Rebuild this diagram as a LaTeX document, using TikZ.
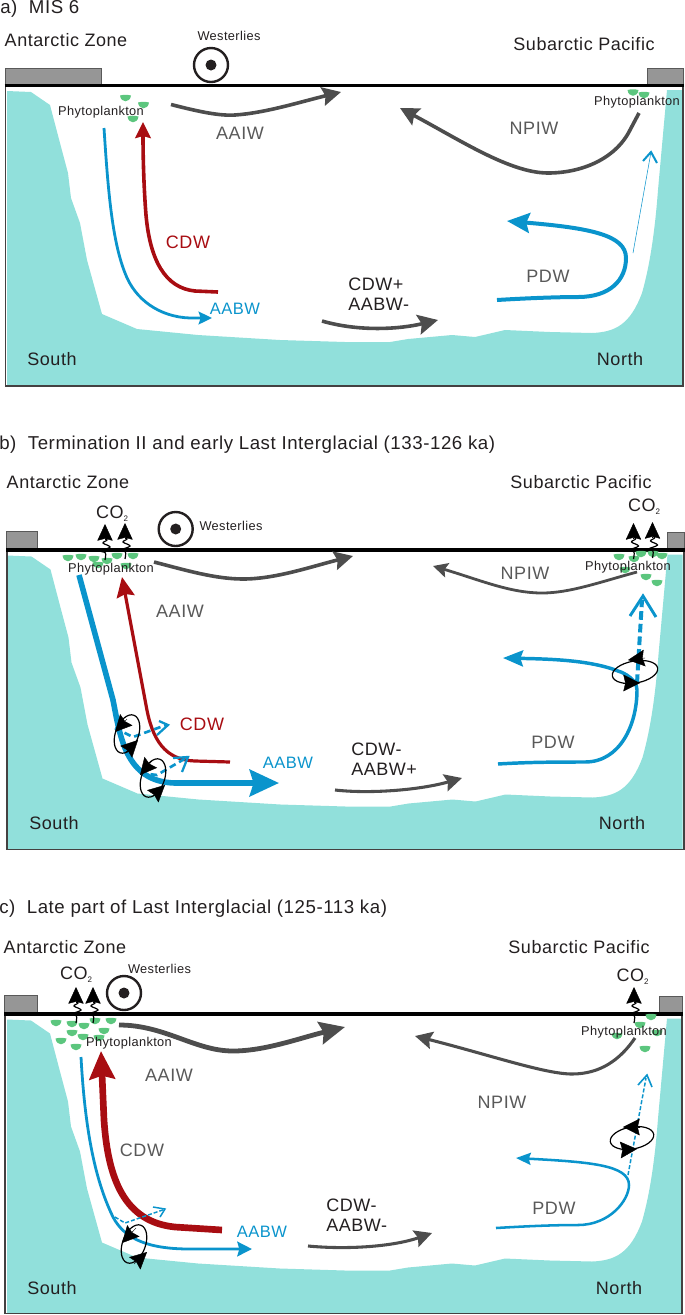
\documentclass[tikz,border=0pt]{standalone}
\usepackage{fontspec}
\setmainfont{Liberation Sans}[LetterSpace=3]
\usetikzlibrary{arrows.meta}
\definecolor{seac}{HTML}{91E0DB}
\definecolor{flowg}{HTML}{4D4D4D}
\definecolor{textg}{HTML}{595959}
\definecolor{flowr}{HTML}{A80D12}
\definecolor{flowb}{HTML}{0A94CC}
\definecolor{phyc}{HTML}{5CC67E}
\definecolor{landc}{HTML}{969696}
\definecolor{inkc}{HTML}{231F20}
\newcommand{\myco}{CO\raisebox{-2pt}{\fontsize{6}{6}\selectfont 2}}
% half-ellipse plankton blob
\newcommand{\blob}[2]{\fill[phyc] (#1-5.5,#2-2.5) .. controls (#1-4.5,#2+5.2) and (#1+4.5,#2+5.2) .. (#1+5.5,#2-2.5) .. controls (#1+2,#2-3.4) and (#1-2,#2-3.4) .. cycle;}
% CO2 arrow: tip at (x,y), squiggle down to y+36
\newcommand{\coarrow}[2]{%
  \draw[squig] plot[smooth,tension=.6] coordinates {(#1,#2+36) (#1+.5,#2+29) (#1-4,#2+27) (#1+5,#2+23) (#1-2,#2+19) (#1+2,#2+16) (#1,#2+13)};
  \draw[cohead] (#1,#2+16) -- (#1,#2);}
% wind symbol
\newcommand{\wind}[3]{%
  \node[windring] (#3) at (#1,#2) {};
  \fill[inkc] (#1,#2) circle[radius=5.5];}
\tikzset{
  lab/.style={font=\fontsize{13.5}{16}\selectfont,text=inkc,inner sep=0pt},
  ttl/.style={lab,font=\fontsize{14}{16}\selectfont,anchor=west},
  glab/.style={lab,text=textg},
  rlab/.style={lab,text=flowr},
  blab/.style={lab,font=\fontsize{12.4}{15}\selectfont,text=flowb},
  small/.style={font=\fontsize{9.6}{11}\selectfont,text=inkc,inner sep=0pt},
  stack/.style={lab,anchor=west},
  windring/.style={circle,draw=inkc,line width=1.8pt,minimum size=34*.75pt,inner sep=0pt},
  land/.style={fill=landc,draw=textg,line width=.6pt},
  side/.style={draw=inkc!85,line width=1.1pt},
  surface/.style={draw=black,line width=2.3pt},
  head/.style n args={3}{-{Stealth[length=#1pt,width=#2pt,inset=#3pt]}},
  gflow/.style={draw=flowg,line width=2.7pt},
  rflow/.style={draw=flowr,line width=2.7pt},
  bflow/.style={draw=flowb,line width=2.1pt},
  squig/.style={draw=black,line width=.9pt},
  cohead/.style={draw=black,line width=.3pt,head={12.5}{11.5}{1.5},fill=black},
  eddy/.style={draw=black,line width=.9pt},
  eddyhead/.style={draw=black,line width=.3pt,head={12.5}{12.5}{1.5}},
  oarrow/.style={draw=flowb,line cap=butt,line join=miter},
}
\begin{document}
\begin{tikzpicture}[x=.75pt,y=-.75pt]
\useasboundingbox (0,0) rectangle (685,1315);
\def\seapath{(7,91) -- (31,92) -- (50,105) -- (60,143) -- (68,173) -- (71,198) -- (80,223) -- (87,260) -- (102,314) -- (137,329) -- (198,335) -- (280,340) -- (345,342) -- (390,342) -- (408,339) -- (452,335) -- (475,337) -- (505,330) -- (550,332) -- (592,333) .. controls (615,332) and (630,325) .. (642,293) .. controls (650,265) and (655,230) .. (658,190) -- (667,90) -- (682,90) -- (682,385) -- (7,385) -- cycle}
% ---------- panel a
\fill[seac] \seapath;
\draw[land] (5,68) rectangle (101,84);
\draw[land] (647,68) rectangle (683,84);
\draw[side] (5.5,86) -- (5.5,386) -- (683,386) -- (683,86);
\draw[surface] (4.5,85.5) -- (684,85.5);
\wind{211}{65}{windA}
\blob{125.5}{98}\blob{143.5}{105}\blob{133}{119}\blob{633}{92.5}\blob{644}{95}
\draw[gflow,head={14}{14}{2}] (171,104.5) .. controls (200,112) and (220,116) .. (235,115) .. controls (265,113) and (300,102) .. (341,92);
\draw[rflow,head={12}{11.5}{1.5}] (218,292) -- (195,291) .. controls (165,288) and (150,260) .. (146,215) .. controls (144,190) and (143,160) .. (143,122);
\draw[bflow,head={10}{9.5}{1.5}] (104,128) .. controls (108,190) and (112,240) .. (125,273) .. controls (135,300) and (160,317) .. (190,318) -- (212,318);
\draw[gflow,head={15}{15}{2.5}] (322,321) .. controls (360,332) and (400,329) .. (438,320);
\draw[gflow,head={14}{14}{2}] (639,113) -- (630,130) .. controls (615,160) and (580,173) .. (548,173) .. controls (510,173) and (460,140) .. (400,108);
\draw[bflow,line width=3pt,head={17}{15}{2.5}] (497,300) .. controls (530,298) and (560,297) .. (578,297) .. controls (610,297) and (626,280) .. (626,258) .. controls (626,235) and (590,228) .. (507,221);
\draw[flowb,line width=.4pt] (633,253) -- (651,152);
\draw[oarrow,line width=1.5pt] (643,161) -- (651,152) -- (657,163);
\node[ttl] (ta) at (0,9) {a)\ \ MIS 6};
\node[lab] (az1) at (66,40) {Antarctic Zone};
\node[lab] (sp1) at (584,44) {Subarctic Pacific};
\node[small] (we1) at (229,36) {Westerlies};
\node[small] (ph1) at (101,112) {Phytoplankton};
\node[small] (ph2) at (637,102) {Phytoplankton};
\node[glab] (aa1) at (240,133) {AAIW};
\node[rlab] (cd1) at (188,242) {CDW};
\node[blab] (ab1) at (235,309) {AABW};
\node[stack] (cp1) at (348,284) {CDW+};
\node[stack] (cp2) at (348,304) {AABW-};
\node[glab] (np1) at (534,128) {NPIW};
\node[glab] (pd1) at (548,276) {PDW};
\node[lab] (so1) at (52,359) {South};
\node[lab] (no1) at (620,359) {North};
% ---------- panel b
\begin{scope}[shift={(.5,464.5)}]
\fill[seac] \seapath;
\end{scope}
\draw[land] (6,531) rectangle (37,549);
\draw[land] (667,532) rectangle (684,549);
\draw[side] (7,551) -- (7,849.5) -- (684,849.5) -- (684,551);
\draw[surface] (6,550) -- (685,550);
\wind{175.7}{529}{windB}
\foreach \p/\q in {68/558,81/557,94/559,107/561,98/565,117/556,133/556,126/566,619/557,634/559,641/554,653/554,662/556,646/577,657/583,625/570}{\blob{\p}{\q}}
\coarrow{105}{524}\coarrow{125}{523}\coarrow{633.5}{523}\coarrow{652.5}{522}
\draw[gflow,head={14}{14}{2}] (154,562) .. controls (185,570) and (215,579) .. (243,579) .. controls (275,579) and (310,567) .. (353,556);
\draw[rflow,line width=2.4pt,head={15}{13.5}{2}] (230,762) -- (195,761) .. controls (165,760) and (152,740) .. (146,705) -- (122,577);
\draw[bflow,line width=4.2pt,head={22}{20}{3}] (79,575) -- (113,700) .. controls (120,735) and (125,782) .. (175,783) -- (279,783);
\draw[gflow,line width=2.3pt,head={13}{13}{2}] (335,790) .. controls (370,794) and (420,790) .. (462,778);
\draw[gflow,line width=2.1pt,head={11}{11}{2}] (637,572) .. controls (600,582) and (570,593) .. (542,593) .. controls (510,593) and (480,580) .. (433,566);
\draw[bflow,line width=2.6pt,head={15}{12}{2}] (498,764) .. controls (530,762) and (560,762) .. (585,762) .. controls (620,762) and (637,725) .. (637,690) .. controls (637,680) and (625,673) .. (618,671) .. controls (590,660) and (550,659) .. (503,658);
% dashed transfers b
\draw[flowb,line width=2pt,dash pattern=on 5pt off 3pt] (115,728) -- (133,737) -- (166,725);
\draw[oarrow,line width=1.7pt] (159,721) -- (168,725) -- (157,735);
\draw[flowb,line width=2pt,dash pattern=on 5pt off 3pt] (140,773) -- (157,775) -- (186,758);
\draw[oarrow,line width=1.7pt] (173,758) -- (188,757) -- (182,772);
\draw[flowb,line width=3pt,dash pattern=on 6.5pt off 3pt] (637,683) -- (642,600);
\draw[oarrow,line width=2.2pt] (630,616) -- (643,596) -- (656,617);
% eddies b
\draw[eddy] (127,734) circle[x radius=11.5,y radius=20,rotate=-20];
\draw[eddy] (153,778) circle[x radius=11.5,y radius=20,rotate=-20];
\draw[eddy] (635,672) circle[x radius=23,y radius=11,rotate=10];
\draw[eddyhead] (127,719) -- (115,732);
\draw[eddyhead] (126,752) -- (138,740);
\draw[eddyhead] (152,761) -- (140,775);
\draw[eddyhead] (152,797) -- (165,785);
\draw[eddyhead] (645,658) -- (628,660);
\draw[eddyhead] (623,683) -- (640,683);
\node[ttl] (tb) at (-1,445) {b)\ \ Termination II and early Last Interglacial (133-126 ka)};
\node[lab] (az2) at (68,482) {Antarctic Zone};
\node[lab] (sp2) at (581,482) {Subarctic Pacific};
\node[small] (we2) at (231,526) {Westerlies};
\node[lab] (co1) at (112,514) {\myco};
\node[lab] (co2) at (644,507) {\myco};
\node[small] (ph3) at (111,569) {Phytoplankton};
\node[small] (ph4) at (628,567) {Phytoplankton};
\node[glab] (aa2) at (180,611) {AAIW};
\node[rlab] (cd2) at (202,724) {CDW};
\node[blab] (ab2) at (288,763) {AABW};
\node[stack] (cm1) at (351,749) {CDW-};
\node[stack] (cm2) at (351,769) {AABW+};
\node[glab] (np2) at (525,573) {NPIW};
\node[glab] (pd2) at (553,742) {PDW};
\node[lab] (so2) at (54,823) {South};
\node[lab] (no2) at (622,823) {North};
% ---------- panel c
\begin{scope}[shift={(0,928.5)}]
\fill[seac] \seapath;
\end{scope}
\draw[land] (4,995) rectangle (37,1013);
\draw[land] (659,996) rectangle (682,1013);
\draw[side] (5,1015) -- (5,1313.5) -- (682,1313.5) -- (682,1015);
\draw[surface] (4,1014) -- (683,1014);
\wind{124}{993}{windC}
\foreach \p/\q in {56/1023,72/1024,84/1026,95/1021,111/1021,72/1033,104/1031,83/1037,61/1041,76/1047,99/1038,651/1017,640/1025,617/1036,657/1033,645/1049}{\blob{\p}{\q}}
\coarrow{76}{987}\coarrow{93}{987}\coarrow{634}{987}
\draw[gflow,line width=3.6pt,head={19}{17}{2.5}] (119,1025) .. controls (165,1025) and (195,1051) .. (233,1051) .. controls (265,1051) and (300,1038) .. (345,1027);
\draw[rflow,line width=5pt,head={21}{19}{2.5}] (222,1230) -- (175,1227) .. controls (125,1222) and (108,1180) .. (104,1120) -- (101,1051);
\draw[bflow,head={11}{11}{1.5}] (81,1057) .. controls (85,1130) and (95,1180) .. (113,1217) .. controls (125,1240) and (150,1249) .. (190,1249) -- (252,1249);
\draw[gflow,line width=2.3pt,head={13}{13}{2}] (308,1246) .. controls (350,1250) and (395,1246) .. (432,1233);
\draw[gflow,line width=2.3pt,head={13}{13}{2}] (635,1038) .. controls (620,1060) and (600,1074) .. (572,1074) .. controls (545,1074) and (490,1055) .. (415,1036);
\draw[bflow,line width=1.9pt,head={11}{9}{1.5}] (496,1228) .. controls (530,1226) and (555,1225) .. (578,1225) .. controls (610,1225) and (629,1200) .. (629,1185) .. controls (629,1165) and (590,1162) .. (516,1158);
\draw[flowb,line width=1.1pt,dash pattern=on 3pt off 1.5pt] (115,1217) -- (125,1223) -- (164,1209.5);
\draw[oarrow,line width=1.1pt] (153,1207) -- (165,1209) -- (160,1217);
\draw[flowb,line width=1.1pt,dash pattern=on 3pt off 1.5pt] (628,1175) -- (646,1078);
\draw[oarrow,line width=1.2pt] (638,1085) -- (647,1075) -- (652,1087);
\draw[eddy] (134,1244) circle[x radius=11.5,y radius=20,rotate=-20];
\draw[eddy] (632,1138) circle[x radius=22,y radius=11,rotate=10];
\draw[eddyhead] (136,1228) -- (122,1243);
\draw[eddyhead] (134,1264) -- (147,1252);
\draw[eddyhead] (640,1127) -- (623,1127);
\draw[eddyhead] (620,1150) -- (637,1149);
\node[ttl] (tc) at (-1,909) {c)\ \ Late part of Last Interglacial (125-113 ka)};
\node[lab] (az3) at (65,947) {Antarctic Zone};
\node[lab] (sp3) at (579,947) {Subarctic Pacific};
\node[small] (we3) at (159.5,969) {Westerlies};
\node[lab] (co3) at (76,975) {\myco};
\node[lab] (co4) at (632.5,977) {\myco};
\node[small] (ph5) at (129,1043) {Phytoplankton};
\node[small] (ph6) at (624,1032) {Phytoplankton};
\node[glab] (aa3) at (169,1075) {AAIW};
\node[glab] (cd3) at (142,1150) {CDW};
\node[blab] (ab3) at (262,1232) {AABW};
\node[stack] (cn1) at (326,1205) {CDW-};
\node[stack] (cn2) at (326,1225) {AABW-};
\node[glab] (np3) at (502,1102) {NPIW};
\node[glab] (pd3) at (554,1208) {PDW};
\node[lab] (so3) at (52,1288) {South};
\node[lab] (no3) at (619,1288) {North};
\end{tikzpicture}
\end{document}
